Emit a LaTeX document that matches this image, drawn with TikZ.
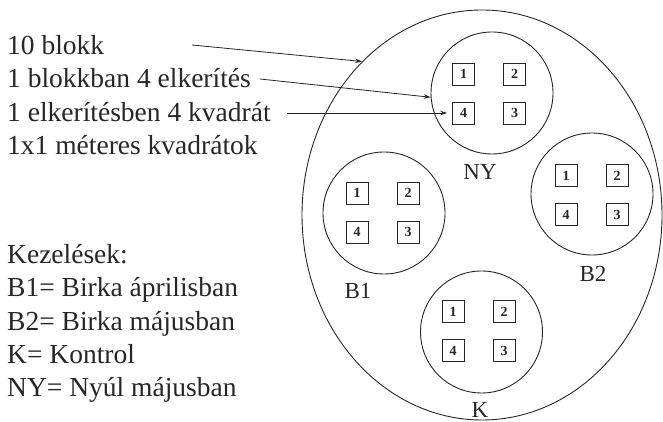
\documentclass[tikz,border=0pt]{standalone}
\usepackage{fontspec}
\setmainfont{Liberation Serif}
\usetikzlibrary{shapes.geometric,arrows.meta}
\newcommand\plotgrp[5]{%
  \node[plotc] (#1) at (#2,#3) {};
  \node[sq] (#1sq1) at (#4-25.5,#5+19.5) {1};
  \node[sq] (#1sq2) at (#4+25.5,#5+19.5) {2};
  \node[sq] (#1sq3) at (#4+25.5,#5-19.5) {3};
  \node[sq] (#1sq4) at (#4-25.5,#5-19.5) {4};
}
\begin{document}
\begin{tikzpicture}[x=1pt,y=1pt,
  txt/.style={anchor=base west,inner sep=0pt,font=\fontsize{27.5}{33}\selectfont,text=black!85},
  lbl/.style={anchor=base,inner sep=0pt,font=\fontsize{23}{28}\selectfont,text=black!85},
  plotc/.style={draw=black!85,circle,minimum size=122pt,inner sep=0pt,line width=0.9pt},
  outer/.style={draw=black!85,ellipse,minimum width=360pt,minimum height=410pt,inner sep=0pt,line width=0.9pt},
  sq/.style={draw=black!85,minimum size=22pt,inner sep=0pt,line width=0.8pt,text=black!85,font=\fontsize{14}{14}\selectfont\bfseries},
  arr/.style={draw=black!85,-{Stealth[length=7pt,width=4.5pt]},line width=0.8pt}]
\useasboundingbox (0,0) rectangle (663,422);
% outer block
\node[outer] (blokk) at (482,207) {};
% plots
\plotgrp{ny}{492}{329}{489}{328.5}
\plotgrp{bone}{384}{209}{382.5}{209.5}
\plotgrp{btwo}{592}{228}{591.5}{227}
\plotgrp{k}{481.5}{90}{478.5}{91}
% plot labels
\node[lbl] (lny) at (480,242) {NY};
\node[lbl] (lb1) at (358,123) {B1};
\node[lbl] (lb2) at (593,140) {B2};
\node[lbl] (lk) at (480,4) {K};
% left texts
\node[txt] (t1) at (7,367) {10 blokk};
\node[txt] (t2) at (7,334) {1 blokkban 4 elkerítés};
\node[txt] (t3) at (7,300.5) {1 elkerítésben 4 kvadrát};
\node[txt] (t4) at (7,267) {1x1 méteres kvadrátok};
\node[txt] (t5) at (7,158) {Kezelések:};
\node[txt] (t6) at (7,125) {B1= Birka áprilisban};
\node[txt] (t7) at (7,91.5) {B2= Birka májusban};
\node[txt] (t8) at (7,58) {K= Kontrol};
\node[txt] (t9) at (7,25) {NY= Nyúl májusban};
% arrows
\coordinate (s1) at (192,377);
\coordinate (s2) at (260,343);
\coordinate (s3) at (287,309);
\draw[arr] (s1) -- (blokk.128);
\draw[arr] (s2) -- (ny.184);
\draw[arr,shorten >=5pt] (s3) -- (nysq4.west);
\end{tikzpicture}
\end{document}
